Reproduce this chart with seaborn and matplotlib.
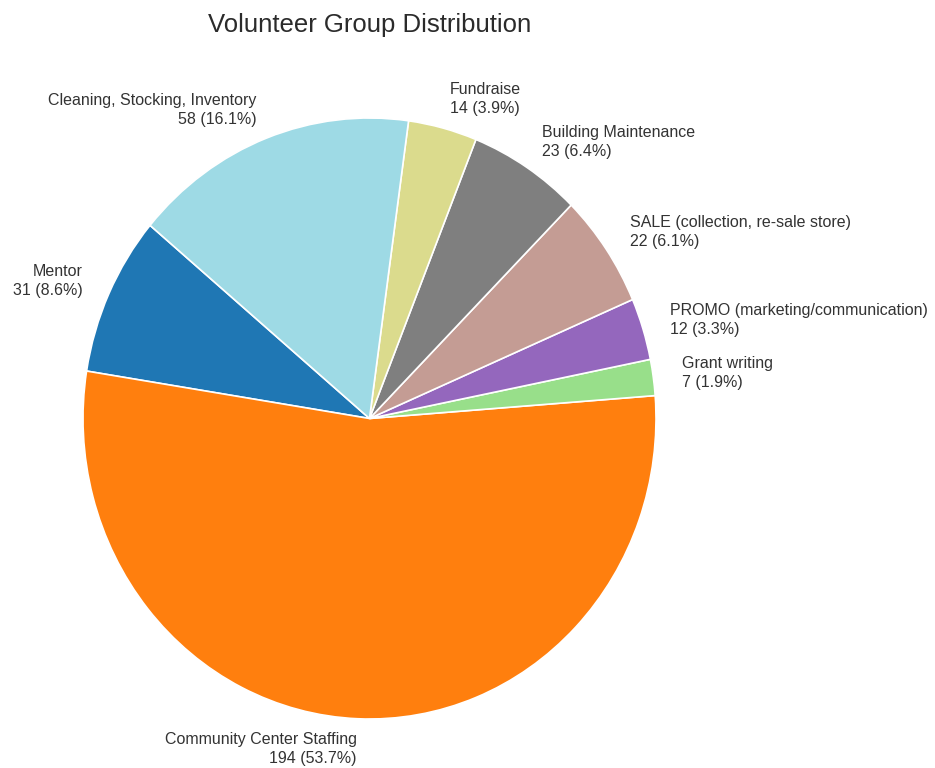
import numpy as np
import matplotlib
matplotlib.use("Agg")
import matplotlib.pyplot as plt
import seaborn as sns

groups = ["Mentor", "Community Center Staffing", "Grant writing",
          "PROMO (marketing/communication)", "SALE (collection, re-sale store)",
          "Building Maintenance", "Fundraise", "Cleaning, Stocking, Inventory"]
counts = [31, 194, 7, 12, 22, 23, 14, 58]

sns.set_theme(style="white")
plt.rcParams["font.family"] = ["Liberation Sans", "DejaVu Sans"]

total = sum(counts)
labels = [f"{g}\n{c} ({c / total * 100:.1f}%)" for g, c in zip(groups, counts)]
colors = plt.get_cmap("tab20")(np.linspace(0, 1, len(groups)))

W, H = 935, 768
fig = plt.figure(figsize=(W / 100, H / 100), dpi=100)
cx, cy, rx, ry = 369.5, 418.5, 286.5, 300.5
ax = fig.add_axes([(cx - rx) / W, (H - cy - ry) / H, 2 * rx / W, 2 * ry / H])

wedges, texts = ax.pie(counts, labels=labels, colors=colors, startangle=140,
                       labeldistance=1.1,
                       wedgeprops=dict(edgecolor="white", linewidth=1.2),
                       textprops=dict(fontsize=11.5, color="#333333",
                                      linespacing=1.3))
for t in texts:
    t.set_multialignment(t.get_horizontalalignment())
ax.set_aspect("auto")
ax.set_xlim(-1, 1)
ax.set_ylim(-1, 1)
ax.axis("off")

fig.text(cx / W, (H - 32) / H, "Volunteer Group Distribution", ha="center",
         va="baseline", fontsize=18.5, color="#2b2b2b")

fig.savefig("out.png", dpi=100)
